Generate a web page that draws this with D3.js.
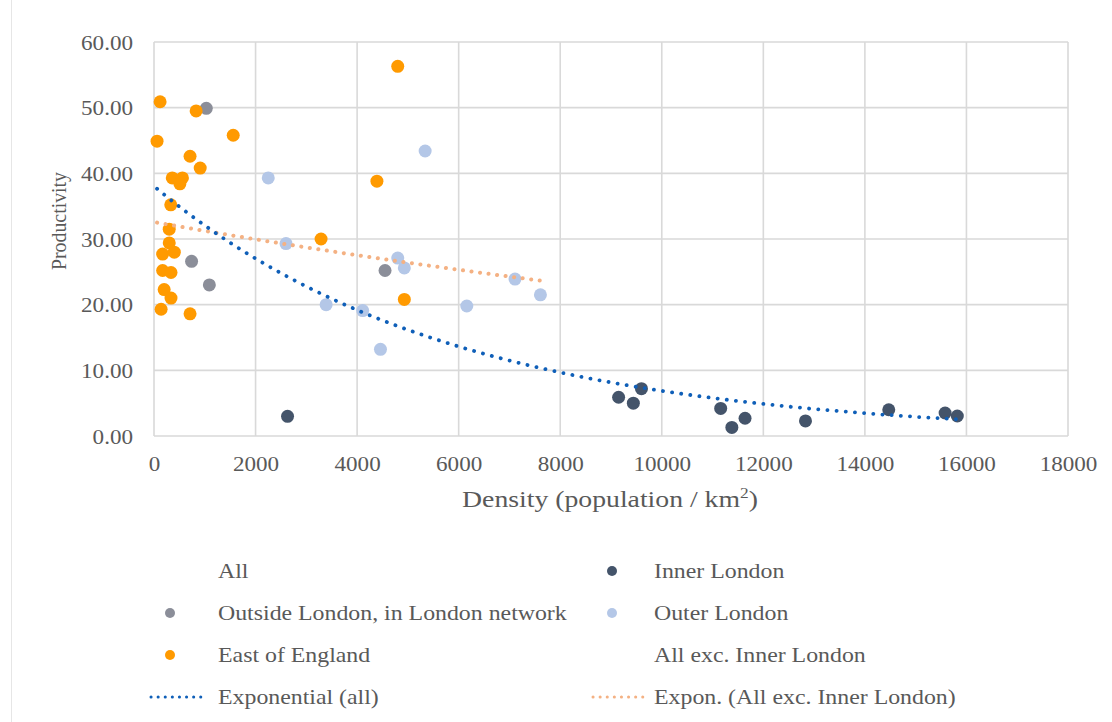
<!DOCTYPE html>
<html>
<head>
<meta charset="utf-8">
<script src="https://cdn.jsdelivr.net/npm/d3@7"></script>
<style>
  html, body { margin: 0; padding: 0; background: #fff; }
  svg { display: block; }
  text { font-family: "Liberation Serif", "Times New Roman", serif; fill: #595959; }
</style>
</head>
<body>
<svg id="chart" width="1112" height="722"></svg>
<script>
// Data points: [density (population / km2), productivity]
const innerLondon = [
  [2630, 3.0], [9150, 5.9], [9440, 5.0], [9600, 7.2], [11160, 4.2], [11380, 1.3],
  [11640, 2.7], [12830, 2.3], [14470, 4.0], [15580, 3.5], [15820, 3.05]
];
const outsideLondonNetwork = [
  [1030, 49.9], [740, 26.6], [1090, 23.0], [4550, 25.2]
];
const outerLondon = [
  [2250, 39.3], [5340, 43.4], [2600, 29.3], [3390, 20.0], [4110, 19.1], [4460, 13.2],
  [4800, 27.1], [4930, 25.6], [6160, 19.8], [7110, 23.9], [7610, 21.5]
];
const eastOfEngland = [
  [120, 50.9], [60, 44.9], [830, 49.5], [1560, 45.8], [710, 42.6], [910, 40.8],
  [360, 39.3], [560, 39.3], [510, 38.4], [330, 35.2], [300, 31.5], [300, 29.4],
  [170, 27.7], [400, 28.0], [170, 25.2], [335, 24.9], [200, 22.3], [335, 21.0],
  [140, 19.3], [710, 18.6], [3290, 30.0], [4930, 20.8], [4800, 56.3], [4390, 38.8]
];

const xTicks = [0, 2000, 4000, 6000, 8000, 10000, 12000, 14000, 16000, 18000];
const yTicks = [0, 10, 20, 30, 40, 50, 60];

const legendLabels = [
  'All', 'Inner London',
  'Outside London, in London network', 'Outer London',
  'East of England', 'All exc. Inner London',
  'Exponential (all)', 'Expon. (All exc. Inner London)'
];

// Hidden helper series used only for trendlines
const allPoints = [].concat(innerLondon, outsideLondonNetwork, outerLondon, eastOfEngland);
const allExcInner = [].concat(outsideLondonNetwork, outerLondon, eastOfEngland);

// Colours
const C_INNER = '#44546a';
const C_OUTSIDE = '#8b8e99';
const C_OUTER = '#b4c7e7';
const C_EAST = '#ff9a00';
const C_TREND_ALL = '#0f5fb8';
const C_TREND_EXC = '#f4b183';
const GRID = '#d9d9d9';

const svg = d3.select('#chart');
svg.append('rect').attr('width', 1112).attr('height', 722).attr('fill', '#fff');
svg.append('line')
  .attr('x1', 11.5).attr('x2', 11.5).attr('y1', 0).attr('y2', 722)
  .attr('stroke', '#e6e6e6').attr('stroke-width', 1);

const x = d3.scaleLinear().domain([0, 18000]).range([154, 1068]);
const y = d3.scaleLinear().domain([0, 60]).range([436, 42]);

// Stretch text horizontally (reference text is slightly wide)
function stretchTo(sel, k) {
  sel.each(function () {
    const t = d3.select(this);
    const tx = +t.attr('x') || 0, ty = +t.attr('y') || 0;
    t.attr('x', null).attr('y', null)
      .attr('transform', `translate(${tx},${ty}) scale(${k},1)`);
  });
}

// Gridlines
const grid = svg.append('g');
grid.selectAll('line.h').data(yTicks).join('line')
  .attr('x1', x(0)).attr('x2', x(18000))
  .attr('y1', d => y(d)).attr('y2', d => y(d))
  .attr('stroke', GRID).attr('stroke-width', 1.6);
grid.selectAll('line.v').data(xTicks).join('line')
  .attr('y1', y(0)).attr('y2', y(60))
  .attr('x1', d => x(d)).attr('x2', d => x(d))
  .attr('stroke', GRID).attr('stroke-width', 1.6);

// Axes (labels only)
const yAxis = svg.append('g')
  .attr('transform', `translate(${x(0)},0)`)
  .call(d3.axisLeft(y).tickValues(yTicks).tickFormat(d3.format('.2f')).tickSize(0).tickPadding(20));
const xAxis = svg.append('g')
  .attr('transform', `translate(0,${y(0)})`)
  .call(d3.axisBottom(x).tickValues(xTicks).tickFormat(d3.format('d')).tickSize(0).tickPadding(19));
[yAxis, xAxis].forEach(a => {
  a.select('.domain').remove();
  a.selectAll('text').attr('font-size', 22).attr('fill', '#595959')
    .attr('font-family', '"Liberation Serif", "Times New Roman", serif')
    .attr('transform', 'scale(1.05,1)');
});

// Axis titles
const yTitle = svg.append('text')
  .attr('transform', 'translate(66,221) rotate(-90)')
  .attr('text-anchor', 'middle')
  .attr('font-size', 22)
  .attr('textLength', 98)
  .attr('lengthAdjust', 'spacingAndGlyphs')
  .text('Productivity');

const xTitle = svg.append('text')
  .attr('x', 610).attr('y', 507)
  .attr('text-anchor', 'middle')
  .attr('font-size', 24);
xTitle.append('tspan').text('Density (population / km');
xTitle.append('tspan').attr('dy', -9).attr('font-size', 15).text('2');
xTitle.append('tspan').attr('dy', 9).text(')');
{
  const w = xTitle.node().getComputedTextLength();
  stretchTo(xTitle, 296 / w);
}

// Scatter markers
const plot = svg.append('g');
function drawPoints(data, color) {
  plot.append('g').selectAll('circle').data(data).join('circle')
    .attr('cx', d => x(d[0])).attr('cy', d => y(d[1]))
    .attr('r', 6.5).attr('fill', color);
}
drawPoints(innerLondon, C_INNER);
drawPoints(outsideLondonNetwork, C_OUTSIDE);
drawPoints(outerLondon, C_OUTER);
drawPoints(eastOfEngland, C_EAST);

// Exponential trendline (least squares on ln y, as Excel does)
function expFit(pts) {
  const n = pts.length;
  let sx = 0, sy = 0, sxx = 0, sxy = 0;
  pts.forEach(([px, py]) => {
    const ly = Math.log(py);
    sx += px; sy += ly; sxx += px * px; sxy += px * ly;
  });
  const b = (n * sxy - sx * sy) / (n * sxx - sx * sx);
  const lnA = (sy - b * sx) / n;
  return v => Math.exp(lnA + b * v);
}
function drawTrend(pts, color, width, gap) {
  const f = expFit(pts);
  const [lo, hi] = d3.extent(pts, d => d[0]);
  const samples = d3.range(0, 151).map(i => lo + (hi - lo) * i / 150);
  plot.append('path')
    .datum(samples)
    .attr('d', d3.line().x(v => x(v)).y(v => y(f(v))))
    .attr('fill', 'none')
    .attr('stroke', color)
    .attr('stroke-width', width)
    .attr('stroke-linecap', 'round')
    .attr('stroke-dasharray', `0.1 ${gap}`);
}
drawTrend(allExcInner, C_TREND_EXC, 4, 8.5);
drawTrend(allPoints, C_TREND_ALL, 3.8, 9.1);

// Legend
const rowsY = [571, 613, 655, 697];
const colMarkX = [170, 612];
const colTextX = [218, 654];
const legendStyle = [
  null, { dot: C_INNER },
  { dot: C_OUTSIDE }, { dot: C_OUTER },
  { dot: C_EAST }, null,
  { line: C_TREND_ALL }, { line: C_TREND_EXC }
];
const legend = svg.append('g');
const legendTexts = [];
legendLabels.forEach((label, i) => {
  const col = i % 2, row = Math.floor(i / 2);
  const cy = rowsY[row];
  const st = legendStyle[i];
  if (st && st.dot) {
    legend.append('circle').attr('cx', colMarkX[col]).attr('cy', cy).attr('r', 5).attr('fill', st.dot);
  }
  if (st && st.line) {
    legend.append('line')
      .attr('x1', colMarkX[col] - 19).attr('x2', colMarkX[col] + 34)
      .attr('y1', cy).attr('y2', cy)
      .attr('stroke', st.line).attr('stroke-width', 3)
      .attr('stroke-linecap', 'round').attr('stroke-dasharray', '0.1 7');
  }
  legendTexts.push(legend.append('text')
    .attr('x', colTextX[col]).attr('y', cy + 7)
    .attr('font-size', 22)
    .text(label));
});
{
  const w = legendTexts[2].node().getComputedTextLength();
  const k = 349 / w;
  legendTexts.forEach(t => stretchTo(t, k));
}
</script>
</body>
</html>
